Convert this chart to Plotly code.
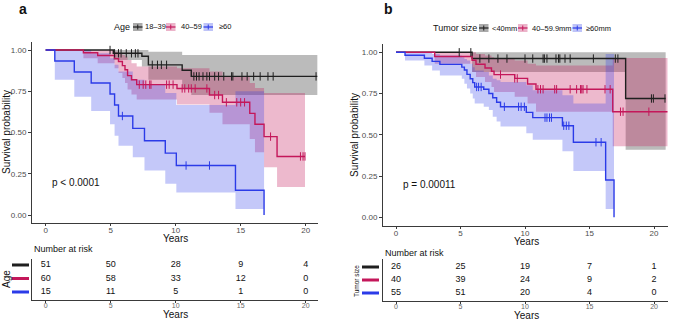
import numpy as np
import plotly.graph_objects as go

W, H = 674, 320

# ---------------- colours ----------------
C_BLACK = "#1f1f1f"
C_PINK = "#C4175A"
C_BLUE = "#2B3BE8"
F_BLACK = "rgba(31,31,31,0.30)"
F_PINK = "rgba(196,23,90,0.30)"
F_BLUE = "rgba(43,59,232,0.28)"

# ---------------- panel a : Age ----------------
a_legend_title = "Age"
a_labels = ["18–39", "40–59", "≥60"]

a1_times = [5.2, 7.4, 7.9, 10.5, 11.2]
a1_surv = [0.980, 0.962, 0.910, 0.877, 0.840]
a1_low = [0.94, 0.90, 0.82, 0.77, 0.727]
a1_up = [1.0, 1.0, 0.99, 0.97, 0.97]
a1_cens = [4.95, 5.3, 5.6, 5.8, 6.2, 6.6, 6.9, 7.1, 8.2, 8.6, 8.9, 9.3, 11.4, 11.6,
           11.8, 12.1, 12.4, 12.6, 13.0, 13.3, 13.7, 14.3, 14.4, 15.1, 15.5, 16.0,
           16.5, 17.1, 17.5, 20.8]
a1_end = 20.9

a2_times = [2.9, 4.0, 5.3, 5.6, 5.9, 6.1, 6.3, 6.6, 7.0, 10.1, 12.6, 13.6, 15.7, 16.1, 16.8, 17.8]
a2_surv = [0.983, 0.967, 0.948, 0.930, 0.905, 0.880, 0.845, 0.820, 0.790, 0.767, 0.727,
           0.683, 0.616, 0.550, 0.475, 0.355]
a2_low = [0.95, 0.92, 0.89, 0.86, 0.83, 0.80, 0.76, 0.73, 0.70, 0.67, 0.62, 0.55, 0.46,
          0.38, 0.29, 0.17]
a2_up = [1.0, 1.0, 0.99, 0.98, 0.97, 0.96, 0.94, 0.92, 0.90, 0.89, 0.87, 0.84, 0.80,
         0.77, 0.74, 0.74]
a2_cens = [7.2, 7.5, 7.7, 8.0, 8.1, 9.3, 9.5, 9.8, 10.5, 10.7, 11.0, 11.2, 11.5, 12.4,
           13.0, 13.3, 13.9, 14.7, 15.0, 15.3, 17.3, 19.6, 19.8, 19.95]
a2_end = 19.95

a3_times = [0.7, 2.2, 3.5, 4.95, 5.3, 5.6, 6.7, 7.6, 9.2, 10.05, 14.6, 16.8]
a3_surv = [0.933, 0.867, 0.800, 0.733, 0.667, 0.600, 0.525, 0.450, 0.375, 0.300, 0.150, 0.0]
a3_low = [0.82, 0.717, 0.63, 0.55, 0.48, 0.42, 0.35, 0.27, 0.19, 0.137, 0.036, None]
a3_up = [1.0, 1.0, 0.98, 0.95, 0.91, 0.87, 0.82, 0.79, 0.74, 0.667, 0.75, None]
a3_cens = [5.9, 10.8, 12.6]
a3_end = 16.8

a_risk_times = [0, 5, 10, 15, 20]
a_risk_1 = [51, 50, 28, 9, 4]
a_risk_2 = [60, 58, 33, 12, 0]
a_risk_3 = [15, 11, 5, 1, 0]
a_pval = "p < 0.0001"

# ---------------- panel b : Tumor size ----------------
b_legend_title = "Tumor size"
b_labels = ["<40mm", "40–59.9mm", "≥60mm"]

b1_times = [5.9, 17.8]
b1_surv = [0.962, 0.72]
b1_low = [0.88, 0.41]
b1_up = [1.0, 1.0]
b1_cens = [4.9, 5.8, 6.5, 7.2, 7.9, 8.6, 10.0, 10.6, 11.4, 11.5, 11.7, 12.4, 12.6, 12.7,
           13.1, 13.5, 15.3, 17.0, 17.2, 19.8, 19.95, 20.85]
b1_end = 20.9

b2_times = [3.0, 5.9, 6.2, 6.9, 7.4, 7.6, 9.2, 10.2, 10.85, 16.8]
b2_surv = [0.975, 0.952, 0.928, 0.905, 0.885, 0.865, 0.842, 0.808, 0.776, 0.64]
b2_low = [0.93, 0.88, 0.85, 0.82, 0.79, 0.76, 0.73, 0.69, 0.64, 0.43]
b2_up = [1.0, 1.0, 0.99, 0.98, 0.97, 0.96, 0.95, 0.93, 0.92, 0.965]
b2_cens = [8.1, 9.2, 9.4, 11.0, 11.2, 11.4, 12.3, 12.45, 13.5, 14.0, 14.3, 14.4, 14.5,
           14.8, 16.2, 16.6, 17.4, 17.6, 19.6]
b2_end = 21.06

b3_times = [0.7, 2.2, 2.8, 3.4, 5.1, 5.3, 5.5, 5.75, 5.95, 6.1, 6.8, 7.2, 7.5, 7.8, 8.1,
            10.1, 10.6, 12.9, 13.75, 16.25, 16.9]
b3_surv = [0.982, 0.964, 0.945, 0.927, 0.910, 0.893, 0.866, 0.840, 0.816, 0.790, 0.776,
           0.750, 0.725, 0.697, 0.670, 0.636, 0.604, 0.555, 0.455, 0.226, 0.0]
b3_low = [0.95, 0.92, 0.89, 0.86, 0.84, 0.81, 0.78, 0.75, 0.72, 0.69, 0.67, 0.65, 0.61,
          0.58, 0.55, 0.51, 0.47, 0.40, 0.28, 0.05, None]
b3_up = [1.0, 1.0, 0.99, 0.98, 0.97, 0.96, 0.95, 0.93, 0.91, 0.89, 0.88, 0.86, 0.84,
         0.83, 0.82, 0.80, 0.77, 0.74, 0.69, 0.99, None]
b3_cens = [6.25, 6.4, 6.6, 8.4, 9.5, 9.7, 9.95, 11.55, 11.7, 11.9, 12.05, 13.0, 13.2,
           13.4, 15.5, 15.9]
b3_end = 16.9

b_risk_times = [0, 5, 10, 15, 20]
b_risk_1 = [26, 25, 19, 7, 1]
b_risk_2 = [40, 39, 24, 9, 2]
b_risk_3 = [55, 51, 20, 4, 0]
b_pval = "p = 0.00011"

FONT = "Liberation Sans, Arial, Helvetica, sans-serif"

# ---------------- helpers ----------------
def px(x):
    return x / W


def py(y):
    return 1 - y / H


def step_value(times, surv, t):
    idx = np.searchsorted(np.array(times), t, side="right") - 1
    return 1.0 if idx < 0 else surv[idx]


fig = go.Figure()


def add_bands(xa, ya, groups):
    for g in groups:
        T, S, LO, UP, C, E, col, fcol = g
        n_valid = sum(1 for v in LO if v is not None)
        tv = T[:n_valid]
        end_b = E if n_valid == len(T) else T[n_valid]
        xb = [0] + tv + [end_b]
        lo = [1.0] + LO[:n_valid] + [LO[n_valid - 1]]
        up = [1.0] + UP[:n_valid] + [UP[n_valid - 1]]
        fig.add_trace(go.Scatter(x=xb, y=lo, mode="lines", line=dict(width=0, shape="hv"),
                                 xaxis=xa, yaxis=ya, showlegend=False, hoverinfo="skip"))
        fig.add_trace(go.Scatter(x=xb, y=up, mode="lines", line=dict(width=0, shape="hv"),
                                 fill="tonexty", fillcolor=fcol,
                                 xaxis=xa, yaxis=ya, showlegend=False, hoverinfo="skip"))


def add_lines(xa, ya, groups):
    for g in groups:
        T, S, LO, UP, C, E, col, fcol = g
        xs = [0] + T + ([E] if E > T[-1] else [])
        ys = [1.0] + S + ([S[-1]] if E > T[-1] else [])
        fig.add_trace(go.Scatter(x=xs, y=ys, mode="lines", line=dict(color=col, width=1.4, shape="hv"),
                                 xaxis=xa, yaxis=ya, showlegend=False))
    for g in groups:
        T, S, LO, UP, C, E, col, fcol = g
        cy = [step_value(T, S, c) for c in C]
        fig.add_trace(go.Scatter(x=C, y=cy, mode="markers",
                                 marker=dict(symbol="line-ns-open", size=6, color=col,
                                             line=dict(color=col, width=1)),
                                 xaxis=xa, yaxis=ya, showlegend=False, cliponaxis=False))


groups_a = [
    (a1_times, a1_surv, a1_low, a1_up, a1_cens, a1_end, C_BLACK, F_BLACK),
    (a2_times, a2_surv, a2_low, a2_up, a2_cens, a2_end, C_PINK, F_PINK),
    (a3_times, a3_surv, a3_low, a3_up, a3_cens, a3_end, C_BLUE, F_BLUE),
]
groups_b = [
    (b1_times, b1_surv, b1_low, b1_up, b1_cens, b1_end, C_BLACK, F_BLACK),
    (b2_times, b2_surv, b2_low, b2_up, b2_cens, b2_end, C_PINK, F_PINK),
    (b3_times, b3_surv, b3_low, b3_up, b3_cens, b3_end, C_BLUE, F_BLUE),
]

add_bands("x", "y", groups_a)
add_bands("x3", "y3", groups_b)
add_lines("x", "y", groups_a)
add_lines("x3", "y3", groups_b)

# risk tables
for xa, ya, rt, rows in [("x2", "y2", a_risk_times, [a_risk_1, a_risk_2, a_risk_3]),
                         ("x4", "y4", b_risk_times, [b_risk_1, b_risk_2, b_risk_3])]:
    for k, row in enumerate(rows):
        fig.add_trace(go.Scatter(x=rt, y=[3 - k] * len(rt), mode="text",
                                 text=[str(v) for v in row],
                                 textfont=dict(size=9, color="#111", family=FONT),
                                 xaxis=xa, yaxis=ya, showlegend=False, cliponaxis=False))

# ---------------- axes ----------------
axis_common = dict(showline=True, linecolor="#3a3a3a", linewidth=1, ticks="outside",
                   tickcolor="#3a3a3a", ticklen=3, tickwidth=1, showgrid=False, zeroline=False,
                   tickfont=dict(size=8, color="#4D4D4D", family=FONT))
xmain = {**axis_common, "ticklen": 2}

a_dom_x = [px(32), px(318)]
b_dom_x = [px(383), px(667.7)]
a_rng_x = [-1.054, 20.95]
b_rng_x = [-1.008, 21.06]
xt = [0, 5, 10, 15, 20]
xtab = {**axis_common, "ticklen": 2, "tickfont": dict(size=7, color="#666", family=FONT)}

fig.update_layout(
    xaxis=dict(domain=a_dom_x, range=a_rng_x, tickvals=xt, anchor="y", ticklabelstandoff=-3, **xmain),
    yaxis=dict(domain=[py(223.25), py(41.75)], range=[-0.05, 1.05],
               tickvals=[0, 0.25, 0.5, 0.75, 1.0], tickformat=".2f", anchor="x", **axis_common),
    xaxis2=dict(domain=a_dom_x, range=a_rng_x, tickvals=xt, anchor="y2", ticklabelstandoff=-3, **xtab),
    yaxis2=dict(domain=[py(300), py(259)], range=[0.407, 3.444], anchor="x2",
                showticklabels=False, **{**axis_common, "ticks": ""}),
    xaxis3=dict(domain=b_dom_x, range=b_rng_x, tickvals=xt, anchor="y3", ticklabelstandoff=-2, **xmain),
    yaxis3=dict(domain=[py(225.55), py(44.05)], range=[-0.05, 1.05],
                tickvals=[0, 0.25, 0.5, 0.75, 1.0], tickformat=".2f", anchor="x3", **axis_common),
    xaxis4=dict(domain=b_dom_x, range=b_rng_x, tickvals=xt, anchor="y4", ticklabelstandoff=-3, **xtab),
    yaxis4=dict(domain=[py(301), py(259)], range=[0.385, 3.615], anchor="x4",
                showticklabels=False, **{**axis_common, "ticks": ""}),
)

# ---------------- annotations ----------------
ann = []


def text(x, y, s, size=10, color="#111", xanchor="center", angle=0, bold=False, xref="paper", yref="paper"):
    ann.append(dict(x=x, y=y, xref=xref, yref=yref, text=("<b>%s</b>" % s) if bold else s,
                    showarrow=False, xanchor=xanchor, yanchor="middle", textangle=angle,
                    font=dict(size=size, color=color, family=FONT)))


text(px(23), py(8.5), "a", size=14, bold=True)
text(px(388), py(9), "b", size=14, bold=True)
text(px(6), py(132), "Survival probability", size=10, angle=-90)
text(px(354), py(135), "Survival probability", size=10, angle=-90)
text(px(175), py(238), "Years", size=10)
text(px(526), py(241), "Years", size=10)
text(px(175), py(314), "Years", size=10)
text(px(526), py(315.5), "Years", size=10)
text(px(32), py(249), "Number at risk", size=9, xanchor="left")
text(px(383), py(253), "Number at risk", size=9, xanchor="left")
text(px(6), py(279), "Age", size=10, angle=-90)
text(px(356), py(281), "Tumor size", size=6.5, angle=-90)
text(0.33, 0.2, a_pval, size=10, xanchor="left", xref="x", yref="y")
text(0.38, 0.2, b_pval, size=10, xanchor="left", xref="x3", yref="y3")

# legends (manual, ggplot style)
shapes = []


def legend_key(x0, yc, line_col, fill_col):
    shapes.append(dict(type="rect", xref="paper", yref="paper", x0=px(x0), x1=px(x0 + 9.5),
                       y0=py(yc + 4), y1=py(yc - 4), fillcolor=fill_col, line=dict(width=0)))
    shapes.append(dict(type="line", xref="paper", yref="paper", x0=px(x0), x1=px(x0 + 9.5),
                       y0=py(yc), y1=py(yc), line=dict(color=line_col, width=1.2)))
    shapes.append(dict(type="line", xref="paper", yref="paper", x0=px(x0 + 4.75), x1=px(x0 + 4.75),
                       y0=py(yc - 2.5), y1=py(yc + 2.5), line=dict(color=line_col, width=1)))


cols = [(C_BLACK, "rgba(31,31,31,0.38)"), (C_PINK, "rgba(196,23,90,0.32)"), (C_BLUE, "rgba(43,59,232,0.30)")]
leg_y = 27
text(px(121.5), py(leg_y), a_legend_title, size=9)
for (kx, lx), lab, (lc, fc) in zip([(133, 143), (166, 179), (203.5, 217)], a_labels, cols):
    legend_key(kx, leg_y, lc, fc)
    text(px(lx), py(leg_y), lab, size=7.5, xanchor="left")

text(px(455), py(28), b_legend_title, size=9)
for (kx, lx), lab, (lc, fc) in zip([(479, 490), (518, 529.5), (572.5, 584)], b_labels, cols):
    legend_key(kx, 28, lc, fc)
    text(px(lx), py(28), lab, size=7.5, xanchor="left")

# risk-table strata colour bars
for xr, yref in [((12, 29), "y2"), ((362, 379), "y4")]:
    for k, c in enumerate([C_BLACK, C_PINK, C_BLUE]):
        shapes.append(dict(type="line", xref="paper", yref=yref, x0=px(xr[0]), x1=px(xr[1]),
                           y0=3 - k, y1=3 - k, line=dict(color=c, width=3)))

fig.update_layout(
    width=W, height=H, margin=dict(l=0, r=0, t=0, b=0),
    paper_bgcolor="white", plot_bgcolor="white",
    showlegend=False, annotations=ann, shapes=shapes,
    font=dict(family=FONT),
)

fig.write_html("out.html", config={"displayModeBar": False},
               post_script="document.body.style.margin='0px';document.body.style.overflow='hidden';")
